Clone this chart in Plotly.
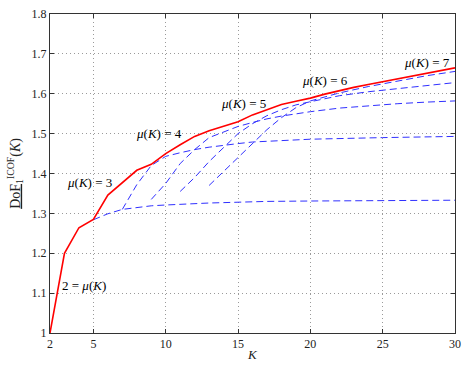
import plotly.graph_objects as go

# red envelope
K_red = [2, 3, 4, 5, 6, 7, 8, 9, 10, 11, 12, 13, 14, 15, 16, 17, 18, 19, 20,
         21, 22, 23, 24, 25, 26, 27, 28, 29, 30]
dof_red = [1.0, 1.2, 1.264, 1.285, 1.346, 1.377, 1.408, 1.423, 1.450, 1.472, 1.493, 1.507,
           1.518, 1.530, 1.547, 1.561, 1.573, 1.581, 1.589, 1.599, 1.608, 1.616, 1.623,
           1.630, 1.637, 1.644, 1.651, 1.658, 1.665]

# blue dashed curves, one per mu(K)
K_mu3 = [5, 6, 7, 8, 9, 10, 11, 12, 13, 14, 15, 17, 20, 25, 30]
dof_mu3 = [1.284, 1.299, 1.310, 1.315, 1.319, 1.321, 1.323, 1.325, 1.326, 1.327, 1.328,
           1.330, 1.331, 1.332, 1.333]

K_mu4 = [7, 8, 9, 10, 11, 12, 13, 14, 15, 16, 18, 20, 25, 30]
dof_mu4 = [1.310, 1.372, 1.420, 1.443, 1.452, 1.460, 1.466, 1.471, 1.475, 1.479, 1.483,
           1.486, 1.490, 1.493]

K_mu5 = [9, 10, 11, 12, 13, 14, 15, 16, 17, 18, 19, 20, 22, 24, 26, 28, 30]
dof_mu5 = [1.335, 1.375, 1.425, 1.460, 1.490, 1.505, 1.518, 1.528, 1.537, 1.544, 1.550,
           1.555, 1.564, 1.570, 1.575, 1.579, 1.582]

K_mu6 = [11, 12, 13, 14, 15, 16, 17, 18, 19, 20, 22, 24, 26, 28, 30]
dof_mu6 = [1.355, 1.390, 1.430, 1.465, 1.500, 1.525, 1.545, 1.560, 1.572, 1.580, 1.595,
           1.605, 1.613, 1.621, 1.628]

K_mu7 = [13, 14, 15, 16, 17, 18, 19, 20, 22, 24, 26, 28, 30]
dof_mu7 = [1.370, 1.405, 1.440, 1.475, 1.510, 1.540, 1.565, 1.582, 1.602, 1.618, 1.632,
           1.645, 1.656]

label_text = ["2 = <i>μ</i>(<i>K</i>)", "<i>μ</i>(<i>K</i>) = 3", "<i>μ</i>(<i>K</i>) = 4",
              "<i>μ</i>(<i>K</i>) = 5", "<i>μ</i>(<i>K</i>) = 6", "<i>μ</i>(<i>K</i>) = 7"]
label_x = [4.36, 4.76, 9.55, 15.35, 21.0, 28.08]
label_y = [1.120, 1.377, 1.500, 1.575, 1.632, 1.678]

x_ticks = [2, 5, 10, 15, 20, 25, 30]
y_ticks = [1, 1.1, 1.2, 1.3, 1.4, 1.5, 1.6, 1.7, 1.8]

font = "Liberation Serif"

fig = go.Figure()
for kx, vy in [(K_mu3, dof_mu3), (K_mu4, dof_mu4), (K_mu5, dof_mu5), (K_mu6, dof_mu6), (K_mu7, dof_mu7)]:
    fig.add_trace(go.Scatter(x=kx, y=vy, mode="lines", line=dict(color="#3030ff", width=1, dash="7px,4px")))
fig.add_trace(go.Scatter(x=K_red, y=dof_red, mode="lines", line=dict(color="#ff0000", width=1.6)))

for t, lx, ly in zip(label_text, label_x, label_y):
    fig.add_annotation(x=lx, y=ly, text=t, showarrow=False, font=dict(family=font, size=13, color="black"))

# axis titles placed as paper annotations so they sit where the reference has them
fig.add_annotation(xref="paper", yref="paper", x=0.5, y=-0.068, yanchor="middle", showarrow=False,
                   text="<i>K</i>", font=dict(family=font, size=13, color="#222"))
fig.add_annotation(xref="paper", yref="paper", x=-0.088, y=0.5, xanchor="center", textangle=-90, showarrow=False,
                   text="<u>DoF</u><sub>1</sub><sup>ICOF</sup>(<i>K</i>)", font=dict(family=font, size=14, color="#222"))

axis_style = dict(showline=True, linecolor="#333", linewidth=1, mirror="ticks", ticks="inside", ticklen=4,
                  tickcolor="#333", showgrid=True, gridcolor="#9a9a9a", griddash="1px,3px", gridwidth=1,
                  zeroline=False, tickfont=dict(family=font, size=12, color="#222"))
fig.update_xaxes(range=[2, 30], tickvals=x_ticks, ticktext=[str(v) for v in x_ticks], **axis_style)
fig.update_yaxes(range=[1, 1.8], tickvals=y_ticks, ticktext=["1", "1.1", "1.2", "1.3", "1.4", "1.5", "1.6", "1.7", "1.8"],
                 **axis_style)
fig.update_layout(width=468, height=367, margin=dict(l=50, r=7, t=8, b=34), showlegend=False,
                  plot_bgcolor="white", paper_bgcolor="white")

# page body has a default 8px margin; drop it so the figure fills the window
fig.write_html("out.html", config={"displayModeBar": False},
               post_script="document.body.style.margin='0';")
